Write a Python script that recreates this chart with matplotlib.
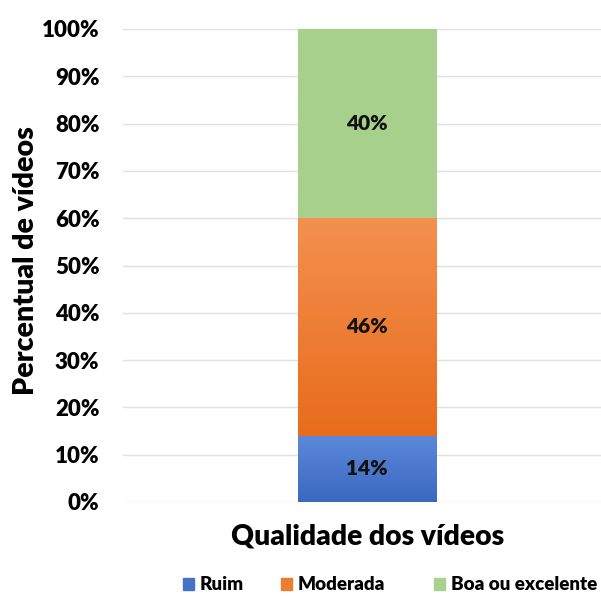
import matplotlib.pyplot as plt
import numpy as np
from matplotlib.colors import LinearSegmentedColormap
from matplotlib.patches import Patch

plt.rcParams["font.family"] = ["Lato", "DejaVu Sans"]
PESO = "heavy"

categoria = ["Qualidade dos vídeos"]
series = ["Ruim", "Moderada", "Boa ou excelente"]
valores = [14, 46, 40]
# top and bottom shade of each segment
cores_topo = ["#5b88d8", "#f3904f", "#a8d08d"]
cores_base = ["#3b69c2", "#e86c1c", "#a8d08d"]
cores_legenda = ["#4472c4", "#ed7d31", "#a9d18e"]

fig = plt.figure(figsize=(6.01, 5.96), dpi=100)
ax = fig.add_axes([123 / 601, 1 - 502 / 596, 478 / 601, (502 - 29) / 596])

base = 0
for nome, v, c0, c1 in zip(series, valores, cores_topo, cores_base):
    bar = ax.bar(0, v, width=0.289, bottom=base, color=c1, linewidth=0, zorder=2)[0]
    cmap = LinearSegmentedColormap.from_list(nome, [c1, c0])
    grad = np.linspace(0, 1, 64).reshape(-1, 1)
    img = ax.imshow(grad, cmap=cmap, aspect="auto", origin="lower",
                    extent=[-0.1445, 0.1445, base, base + v], zorder=3)
    img.set_clip_path(bar)
    ax.text(0, base + v / 2, f"{v}%", ha="center", va="center",
            fontsize=15, fontweight=PESO, color="#111111", zorder=4)
    base += v

ax.set_xlim(-0.51, 0.49)
ax.set_ylim(0, 100)
ax.set_yticks(range(0, 101, 10))
ax.set_yticklabels([f"{t}%" for t in range(0, 101, 10)], fontsize=16, fontweight=PESO)
ax.set_xticks([])
ax.grid(axis="y", color="#e0e0e0", linewidth=1, zorder=0)
ax.tick_params(axis="y", length=0, pad=17)
for s in ax.spines.values():
    s.set_visible(False)

ax.set_ylabel("Percentual de vídeos", fontsize=20.5, fontweight=PESO)
ax.yaxis.set_label_coords(-0.175, 0.51)
ax.set_xlabel(categoria[0], fontsize=20.3, fontweight=PESO)
ax.xaxis.set_label_coords(0.512, -0.045)

# one legend per entry so the gaps between entries can differ
pos_legenda = [183, 281, 434]
for nome, cor, x in zip(series, cores_legenda, pos_legenda):
    fig.legend([Patch(color=cor)], [nome], loc="center left",
               bbox_to_anchor=(x / 601, 11 / 596), frameon=False,
               borderpad=0, borderaxespad=0, handlelength=0.6, handleheight=0.6,
               handletextpad=0.3, prop={"weight": PESO, "size": 13.5})

fig.savefig("out.png", dpi=100)
